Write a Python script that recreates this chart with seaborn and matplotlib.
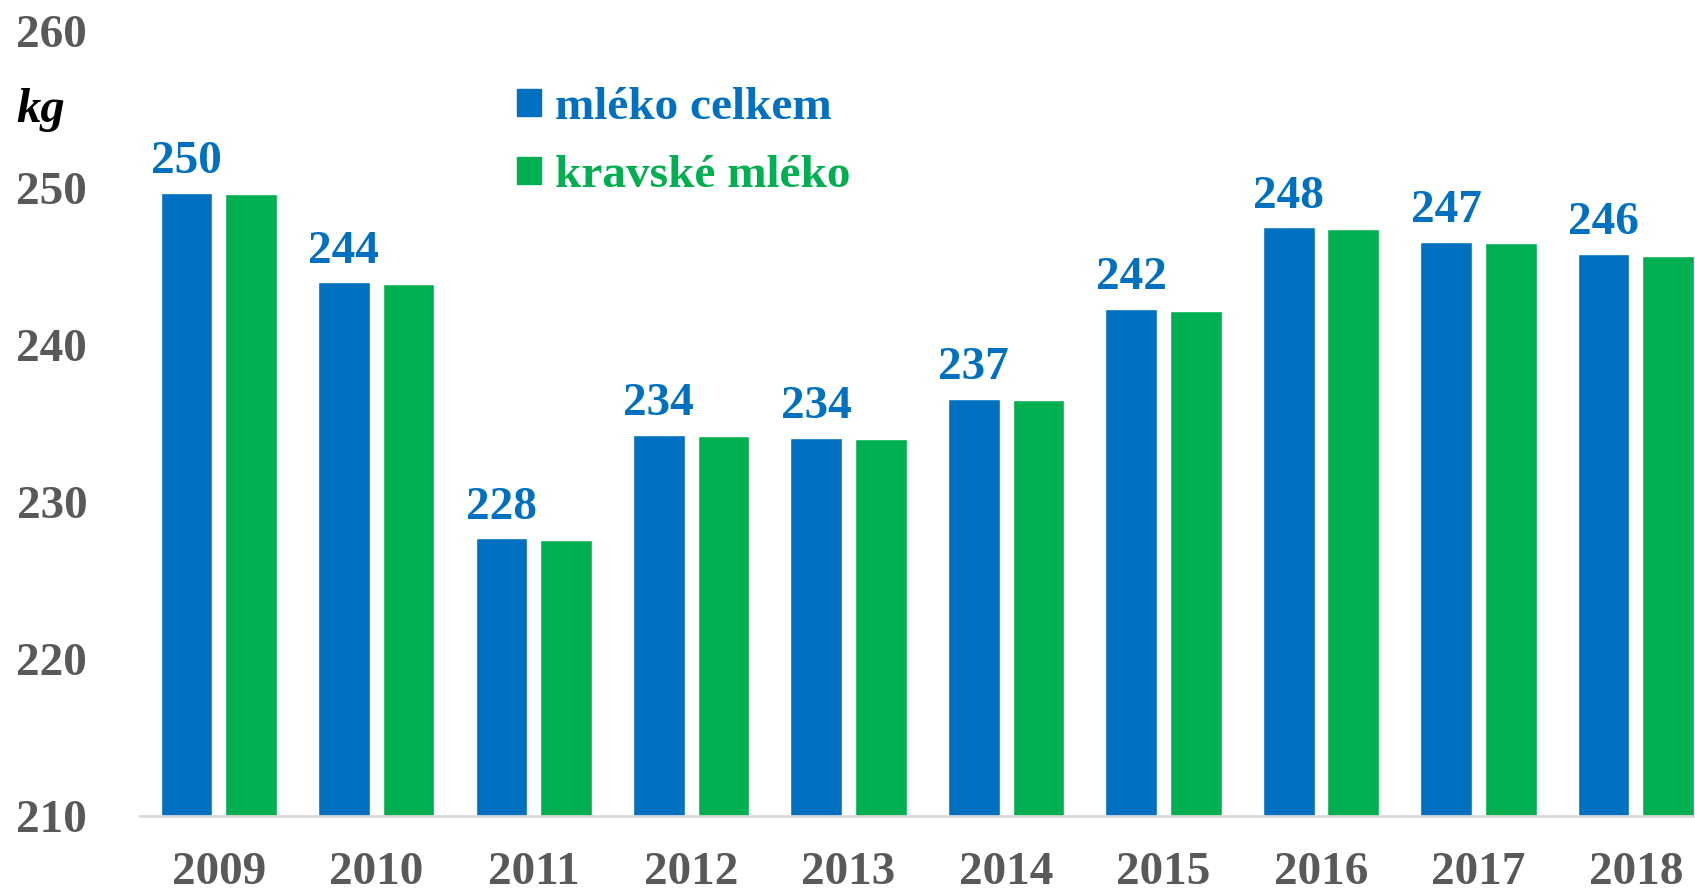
import pandas as pd
import matplotlib.pyplot as plt
import seaborn as sns

# Data (kg per person)
years = ['2009', '2010', '2011', '2012', '2013', '2014', '2015', '2016', '2017', '2018']
mleko_celkem = [249.7, 244.0, 227.7, 234.3, 234.1, 236.6, 242.3, 247.5, 246.6, 245.8]
kravske_mleko = [249.6, 243.9, 227.6, 234.2, 234.0, 236.5, 242.2, 247.4, 246.5, 245.7]
series_names = ['mléko celkem', 'kravské mléko']
colors = ['#0070C0', '#00B050']

df = pd.DataFrame({
    'rok': years * 2,
    'hodnota': mleko_celkem + kravske_mleko,
    'rada': [series_names[0]] * len(years) + [series_names[1]] * len(years),
})

sns.set_style('white')
plt.rcParams['font.family'] = ['Liberation Serif', 'DejaVu Serif']
plt.rcParams['font.weight'] = 'bold'

fig = plt.figure(figsize=(16.95, 8.92), dpi=100)
ax = fig.add_axes([0.0826, 0.085, 0.929, 0.880])

sns.barplot(data=df, x='rok', y='hodnota', hue='rada', palette=colors,
            saturation=1, width=0.82, gap=0.2, ax=ax, legend=False)

ax.set_ylim(210, 260)
ax.set_yticks(range(210, 261, 10))
ax.set_xlabel('')
ax.set_ylabel('')

# labels above the blue bars only
ax.bar_label(ax.containers[0], fmt='{:.0f}', padding=7, color=colors[0],
             fontsize=34, fontweight='bold')

ax.tick_params(axis='both', length=0, labelsize=34, labelcolor='#595959')
ax.tick_params(axis='x', pad=26)
ax.tick_params(axis='y', pad=38)
for lbl in ax.get_xticklabels() + ax.get_yticklabels():
    lbl.set_fontweight('bold')

sns.despine(ax=ax, left=True)
ax.spines['bottom'].set_color('#D9D9D9')
ax.spines['bottom'].set_linewidth(2)

# unit label
fig.text(16 / 1695, 1 - 110 / 892, 'kg', fontsize=35, fontweight='bold',
         fontstyle='italic', color='black', va='center', ha='left')

# legend
handles = [plt.Rectangle((0, 0), 1, 1, color=c) for c in colors]
leg = ax.legend(handles, series_names, loc='upper left',
                bbox_to_anchor=(517 / 1695, 1 - 87 / 892),
                bbox_transform=fig.transFigure, frameon=False,
                fontsize=34, handlelength=0.5, handleheight=0.5,
                handletextpad=0.3, labelspacing=0.56, borderpad=0,
                borderaxespad=0, labelcolor=colors)
for t in leg.get_texts():
    t.set_fontweight('bold')

fig.savefig('out.png', dpi=100)
